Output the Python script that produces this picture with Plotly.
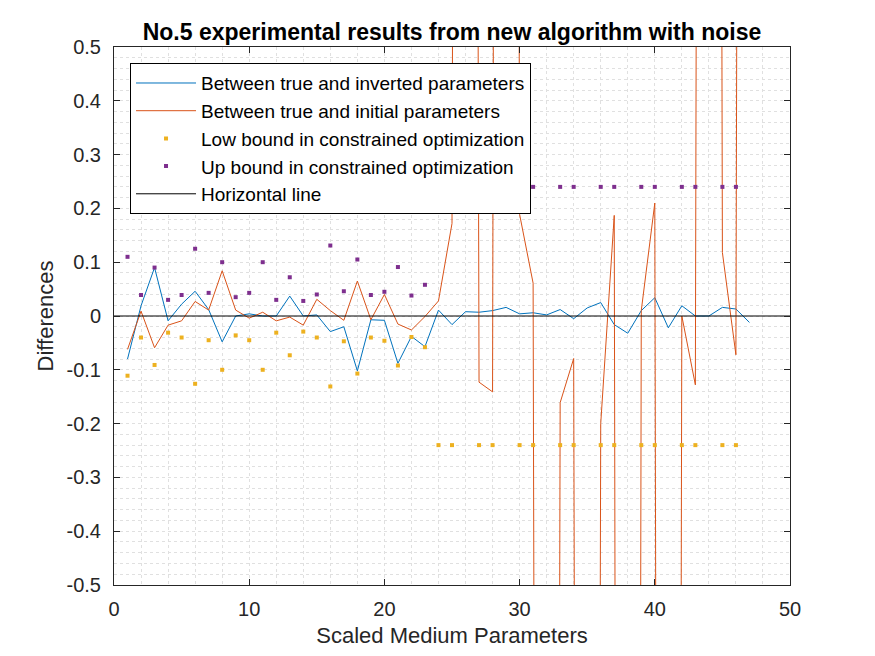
import plotly.graph_objects as go

# индексы параметров
param_idx = list(range(1, 48))

# разница между истинными и восстановленными параметрами
diff_inverted = [-0.080, 0.019, 0.090, -0.009, 0.022, 0.046, 0.012, -0.048, 0.000, 0.004,
                 0.000, 0.000, 0.037, 0.000, 0.002, -0.029, -0.020, -0.102, -0.007, -0.008,
                 -0.088, -0.038, -0.057, 0.011, -0.016, 0.008, 0.007, 0.010, 0.016, 0.004,
                 0.006, 0.002, 0.012, -0.005, 0.015, 0.025, -0.016, -0.032, 0.010, 0.034,
                 -0.022, 0.019, 0.000, 0.000, 0.016, 0.013, -0.012]

# разница между истинными и начальными параметрами (большие значения уходят за ось)
diff_initial = [-0.062, 0.009, -0.059, -0.017, -0.009, 0.027, 0.011, 0.084, 0.011, -0.004,
                0.007, -0.009, -0.002, -0.017, 0.031, 0.010, -0.008, 0.065, -0.007, 0.040,
                -0.015, -0.026, -0.001, 0.028, 0.172, 9.6, -0.123, -0.141, 11.2, 0.189,
                0.061, -10.4, -0.161, -0.079, -9.8, -0.200, 0.187, -12.1, 0.010, 0.210,
                -10.9, 0.000, -0.128, 10.7, 0.118, -0.072, 9.9]

# границы в оптимизации с ограничениями
low_bound = [-0.111, -0.040, -0.091, -0.031, -0.040, -0.126, -0.045, -0.100, -0.036, -0.045,
             -0.100, -0.031, -0.073, -0.029, -0.040, -0.131, -0.047, -0.107, -0.040, -0.046,
             -0.092, -0.039, -0.058, -0.24, -0.24, None, -0.24, -0.24, None, -0.24,
             -0.24, None, -0.24, -0.24, None, -0.24, -0.24, None, -0.24, -0.24,
             None, -0.24, -0.24, None, -0.24, -0.24, None]
up_bound = [0.110, 0.039, 0.090, 0.030, 0.039, 0.125, 0.043, 0.100, 0.035, 0.043,
            0.100, 0.030, 0.072, 0.028, 0.040, 0.131, 0.046, 0.105, 0.039, 0.045,
            0.091, 0.038, 0.058, 0.24, 0.24, None, 0.24, 0.24, None, 0.24,
            0.24, None, 0.24, 0.24, None, 0.24, 0.24, None, 0.24, 0.24,
            None, 0.24, 0.24, None, 0.24, 0.24, None]

# горизонтальная линия
hline_x = [0, 50]
hline_y = [0, 0]

y_ticks = [0.5, 0.4, 0.3, 0.2, 0.1, 0, -0.1, -0.2, -0.3, -0.4, -0.5]
y_labels = ['0.5', '0.4', '0.3', '0.2', '0.1', '0', '-0.1', '-0.2', '-0.3', '-0.4', '-0.5']
x_ticks = [0, 10, 20, 30, 40, 50]

FONT = 'Liberation Sans, Arial, sans-serif'
GRID = '#e0e0e0'

fig = go.Figure()
fig.add_trace(go.Scatter(x=param_idx, y=diff_inverted, mode='lines', name='Between true and inverted parameters',
                         line=dict(color='#0072BD', width=1), legendgroup='a'))
fig.add_trace(go.Scatter(x=param_idx, y=diff_initial, mode='lines', name='Between true and initial parameters',
                         line=dict(color='#D95319', width=1), legendgroup='b'))
fig.add_trace(go.Scatter(x=param_idx, y=low_bound, mode='markers', name='Low bound in constrained optimization',
                         marker=dict(color='#EDB120', symbol='square', size=4), legendgroup='c'))
fig.add_trace(go.Scatter(x=param_idx, y=up_bound, mode='markers', name='Up bound in constrained optimization',
                         marker=dict(color='#7E2F8E', symbol='square', size=4), legendgroup='d'))
fig.add_trace(go.Scatter(x=hline_x, y=hline_y, mode='lines', name='Horizontal line',
                         line=dict(color='black', width=1), legendgroup='e'))

# страница имеет отступ 8px, поэтому фигура чуть меньше окна
fig.update_layout(
    width=867, height=648, autosize=False,
    paper_bgcolor='white', plot_bgcolor='white',
    margin=dict(l=106, r=85, t=39, b=71),
    font=dict(family=FONT, color='#262626', size=19),
    title=dict(text='No.5 experimental results from new algorithm with noise',
               font=dict(family=FONT, size=23, color='black', weight='bold'),
               x=(452 - 8) / 867, xanchor='center', y=1 - 24 / 648, yanchor='middle', yref='container'),
    legend=dict(x=0.0237, y=0.970, xanchor='left', yanchor='top', bgcolor='white',
                bordercolor='black', borderwidth=1, font=dict(family=FONT, size=19, color='black'),
                itemwidth=60, tracegroupgap=0, traceorder='normal'),
    showlegend=True,
)
fig.update_xaxes(range=[0, 50], tickvals=x_ticks, ticks='inside', ticklen=6, tickcolor='#262626',
                 showline=True, linecolor='#262626', linewidth=1, mirror='allticks',
                 showgrid=True, gridcolor=GRID, griddash='dot', gridwidth=1, zeroline=False,
                 tickfont=dict(size=20), ticklabelstandoff=6,
                 minor=dict(dtick=2, showgrid=True, gridcolor=GRID, griddash='dot', gridwidth=1),
                 title=dict(text='Scaled Medium Parameters', font=dict(size=22), standoff=8))
fig.update_yaxes(range=[-0.5, 0.5], tickvals=y_ticks, ticktext=y_labels, ticks='inside', ticklen=6,
                 tickcolor='#262626', showline=True, linecolor='#262626', linewidth=1, mirror='allticks',
                 showgrid=True, gridcolor=GRID, griddash='dot', gridwidth=1, zeroline=False,
                 tickfont=dict(size=20), ticklabelstandoff=8,
                 minor=dict(dtick=0.02, showgrid=True, gridcolor=GRID, griddash='dot', gridwidth=1),
                 title=dict(text='Differences', font=dict(size=22), standoff=6))

fig.write_html('out.html')
